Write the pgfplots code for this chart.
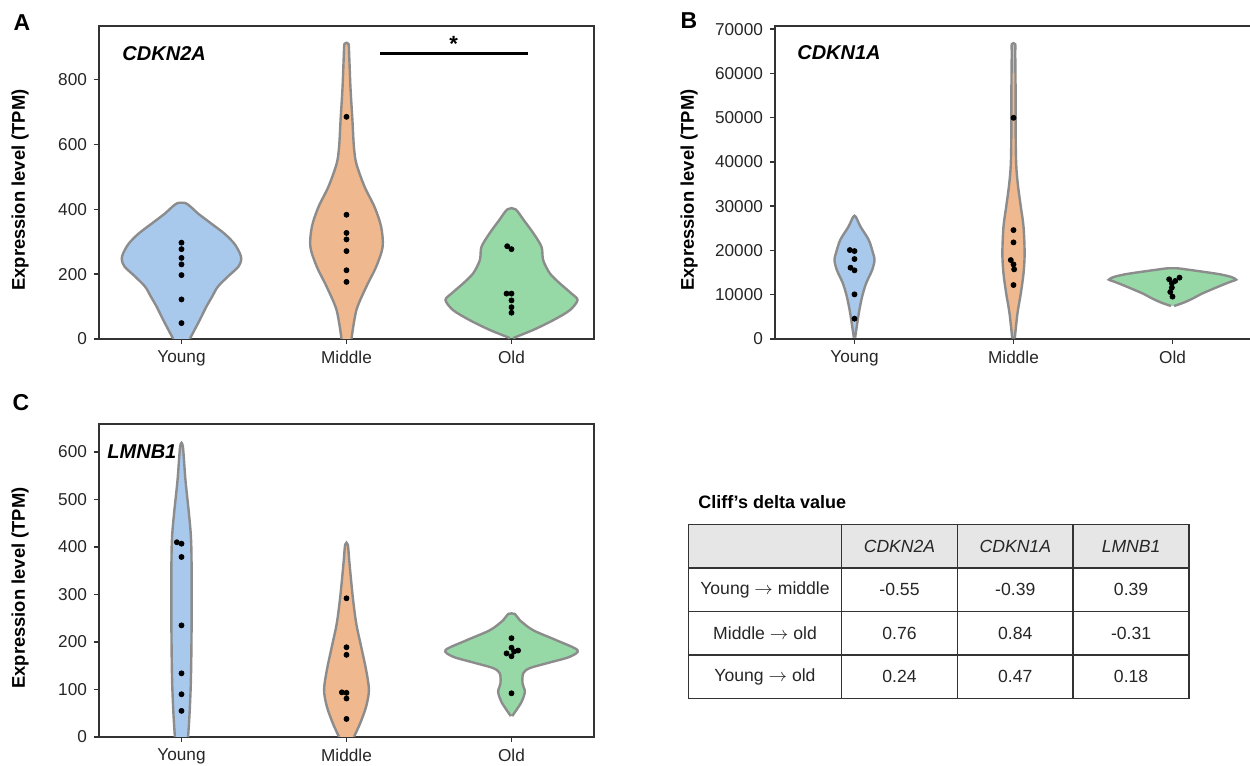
\documentclass[border=0pt]{standalone}
\usepackage{pgfplots}
\pgfplotsset{compat=1.18}
\usepackage{fontspec}
\setmainfont{Liberation Sans}
\definecolor{vblue}{HTML}{A8C8EC}
\definecolor{vorange}{HTML}{F0B88E}
\definecolor{vgreen}{HTML}{96D9A6}
\definecolor{vgray}{HTML}{8C8C8C}
\definecolor{axisc}{HTML}{333333}
\definecolor{tickc}{HTML}{262626}
\definecolor{hdrgray}{HTML}{E6E6E6}
\pgfplotsset{
  vio/.style={scale only axis, height=156.5pt, anchor=south west,
    xmin=0.5, xmax=3.5, ymin=0,
    xtick={1,2,3}, xticklabels={Young,Middle,Old},
    xtick pos=bottom, ytick pos=left, tick align=outside,
    major tick length=2.5pt,
    axis line style={draw=axisc, line width=0.75pt},
    tick style={draw=axisc, line width=0.75pt},
    tick label style={font=\fontsize{8.6}{10}\selectfont, text=tickc},
    /pgf/number format/assume math mode=true,
    scaled y ticks=false,
    yticklabel style={/pgf/number format/.cd, fixed, set thousands separator={}},
  },
  vshape/.style={draw=vgray, line width=1.2pt, smooth, tension=0.5},
  dots/.style={only marks, mark=*, mark size=1.25pt, black},
}
\begin{document}
\begin{tikzpicture}
\useasboundingbox (0,0) rectangle (625pt,383pt);
\clip (0,0) rectangle (625pt,383pt);

% ---------------- Panel A ----------------
\begin{axis}[vio, at={(49.5pt,213.5pt)}, width=247.5pt, ymax=965, ytick={0,200,400,600,800}]
\addplot[vshape, fill=vblue] coordinates {
(1.05,0) (1.11,58) (1.15,99) (1.185,130) (1.22,161) (1.28,192) (1.345,223) (1.362,245) (1.354,264) (1.32,294) (1.26,325) (1.18,356) (1.10,387) (1.057,407) (1.024,419)
(0.976,419) (0.943,407) (0.90,387) (0.82,356) (0.74,325) (0.68,294) (0.646,264) (0.638,245) (0.655,223) (0.72,192) (0.78,161) (0.815,130) (0.85,99) (0.89,58) (0.95,0)};
\addplot[vshape, fill=vorange] coordinates {
(2.03,0) (2.06,89) (2.12,161) (2.18,223) (2.219,284) (2.21,346) (2.17,407) (2.11,469) (2.06,540) (2.045,592) (2.036,674) (2.024,776) (2.016,879) (2.012,910)
(1.988,910) (1.984,879) (1.976,776) (1.964,674) (1.955,592) (1.94,540) (1.89,469) (1.83,407) (1.79,346) (1.781,284) (1.82,223) (1.88,161) (1.94,89) (1.97,0)};
\addplot[vshape, fill=vgreen] coordinates {
(3.01,3) (3.132,28) (3.253,58) (3.354,89) (3.40,120) (3.364,140) (3.294,171) (3.233,202) (3.192,243) (3.182,284) (3.134,325) (3.075,366) (3.024,400)
(2.976,400) (2.925,366) (2.866,325) (2.818,284) (2.808,243) (2.767,202) (2.706,171) (2.636,140) (2.60,120) (2.646,89) (2.747,58) (2.868,28) (2.99,3)};
\addplot[dots] coordinates {(1,297) (1,277) (1,250) (1,230) (1,197) (1,122) (1,49)};
\addplot[dots] coordinates {(2,685) (2,383) (2,327) (2,307) (2,271) (2,212) (2,176)};
\addplot[dots] coordinates {(2.974,286) (3,277) (2.97,140) (3,140) (3,119) (3,98) (3,81)};
\addplot[black, line width=1.5pt] coordinates {(2.206,880) (3.097,880)};
\node[anchor=north, inner sep=0pt, font=\bfseries\fontsize{11}{12}\selectfont] at (axis cs:2.65,934) {*};
\node[anchor=west, inner sep=0pt, font=\bfseries\itshape\fontsize{10}{12}\selectfont] at (axis cs:0.64,880) {CDKN2A};
\end{axis}

% ---------------- Panel B ----------------
\begin{axis}[vio, at={(387.5pt,213.5pt)}, width=238.5pt, ymax=70700, ytick={0,10000,20000,30000,40000,50000,60000,70000}]
\addplot[vshape, fill=vblue] coordinates {
(1.004,300) (1.027,5790) (1.048,9555) (1.073,12565) (1.111,15570) (1.126,17830) (1.117,19340) (1.09,22350) (1.038,25360) (1.008,27600)
(0.992,27600) (0.962,25360) (0.91,22350) (0.883,19340) (0.874,17830) (0.889,15570) (0.927,12565) (0.952,9555) (0.973,5790) (0.996,300)};
\addplot[vshape, fill=vorange] coordinates {
(2.008,150) (2.025,5790) (2.046,10310) (2.063,14820) (2.07,19340) (2.063,25360) (2.046,29870) (2.029,34380) (2.019,38150) (2.015,41910) (2.013,49430) (2.013,56960) (2.011,64480) (2.011,66600)
(1.989,66600) (1.989,64480) (1.987,56960) (1.987,49430) (1.985,41910) (1.981,38150) (1.971,34380) (1.954,29870) (1.937,25360) (1.93,19340) (1.937,14820) (1.954,10310) (1.975,5790) (1.992,150)};
\addplot[vshape, fill=vgreen] coordinates {
(3.01,7460) (3.07,8210) (3.13,9190) (3.19,10320) (3.30,12000) (3.37,13000) (3.40,13400) (3.37,14000) (3.30,14600) (3.21,15100) (3.13,15500) (3.07,15800) (3.03,15970)
(2.97,15970) (2.93,15800) (2.87,15500) (2.79,15100) (2.70,14600) (2.63,14000) (2.60,13400) (2.63,13000) (2.70,12000) (2.81,10320) (2.87,9190) (2.93,8210) (2.99,7460)};
\addplot[dots] coordinates {(0.971,20090) (1,19860) (1,18060) (0.975,16100) (1,15500) (1,10080) (1,4590)};
\addplot[dots] coordinates {(2,49960) (2,24600) (2,21820) (1.983,17830) (2,16850) (2.004,15730) (2,12190)};
\addplot[dots] coordinates {(2.979,13490) (3.044,13860) (3.017,13110) (2.996,12580) (2.996,11600) (2.986,10620) (3,9570)};
\node[anchor=west, inner sep=0pt, font=\bfseries\itshape\fontsize{10}{12}\selectfont] at (axis cs:0.638,64600) {CDKN1A};
\end{axis}

% ---------------- Panel C ----------------
\begin{axis}[vio, at={(49.5pt,14.5pt)}, width=247.5pt, ymax=659, ytick={0,100,200,300,400,500,600}]
\addplot[vshape, fill=vblue] coordinates {
(1.04,0) (1.049,50) (1.057,120) (1.061,225) (1.061,366) (1.057,422) (1.045,471) (1.024,541) (1.008,612)
(0.992,612) (0.976,541) (0.955,471) (0.943,422) (0.939,366) (0.939,225) (0.943,120) (0.951,50) (0.96,0)};
\addplot[vshape, fill=vorange] coordinates {
(2.045,0) (2.083,29) (2.119,64) (2.136,99) (2.119,141) (2.089,190) (2.059,239) (2.038,295) (2.018,366) (2.008,405)
(1.992,405) (1.982,366) (1.962,295) (1.941,239) (1.911,190) (1.881,141) (1.864,99) (1.881,64) (1.917,29) (1.955,0)};
\addplot[vshape, fill=vgreen] coordinates {
(3.004,44) (3.03,57) (3.061,74) (3.081,95) (3.067,113) (3.071,134) (3.111,145) (3.233,157) (3.354,169) (3.40,183) (3.27,204) (3.13,225) (3.05,246) (3.02,259)
(2.98,259) (2.95,246) (2.87,225) (2.73,204) (2.60,183) (2.646,169) (2.767,157) (2.889,145) (2.929,134) (2.933,113) (2.919,95) (2.939,74) (2.97,57) (2.996,44)};
\addplot[dots] coordinates {(0.972,410) (1,407) (1,379) (1,235) (1,134) (1,90) (1,55)};
\addplot[dots] coordinates {(2,292) (2,189) (2,173) (1.972,94) (2,93) (2,81) (2,38)};
\addplot[dots] coordinates {(3,208) (3,188) (2.97,176) (3.04,182) (3.016,180) (3,170) (3,92)};
\node[anchor=west, inner sep=0pt, font=\bfseries\itshape\fontsize{10}{12}\selectfont] at (axis cs:0.549,600) {LMNB1};
\end{axis}

% ---------------- labels ----------------
\node[rotate=90, font=\bfseries\fontsize{9.2}{11}\selectfont] at (10pt,288pt) {Expression level (TPM)};
\node[rotate=90, font=\bfseries\fontsize{9.2}{11}\selectfont] at (344.5pt,288pt) {Expression level (TPM)};
\node[rotate=90, font=\bfseries\fontsize{9.2}{11}\selectfont] at (10pt,89pt) {Expression level (TPM)};
\node[font=\bfseries\fontsize{11.5}{13}\selectfont] at (11pt,371.5pt) {A};
\node[font=\bfseries\fontsize{11.5}{13}\selectfont] at (344.5pt,372.5pt) {B};
\node[font=\bfseries\fontsize{11.5}{13}\selectfont] at (10.5pt,181.5pt) {C};

% ---------------- table ----------------
\node[anchor=base west, inner sep=0pt, font=\bfseries\fontsize{9}{11}\selectfont] at (349pt,128.5pt) {Cliff’s delta value};
\fill[hdrgray] (344.2pt,99pt) rectangle (594.5pt,120.75pt);
\begin{scope}[draw=axisc, line width=0.75pt]
\draw (344.2pt,33.75pt) rectangle (594.5pt,120.75pt);
\draw (344.2pt,99pt) -- (594.5pt,99pt);
\draw (344.2pt,77.25pt) -- (594.5pt,77.25pt);
\draw (344.2pt,55.5pt) -- (594.5pt,55.5pt);
\draw (420.8pt,33.75pt) -- (420.8pt,120.75pt);
\draw (478.7pt,33.75pt) -- (478.7pt,120.75pt);
\draw (536.6pt,33.75pt) -- (536.6pt,120.75pt);
\end{scope}
\begin{scope}[every node/.style={font=\fontsize{8.8}{10}\selectfont, text=tickc}]
\node at (449.75pt,109.9pt) {\itshape CDKN2A};
\node at (507.65pt,109.9pt) {\itshape CDKN1A};
\node at (565.55pt,109.9pt) {\itshape LMNB1};
\node at (382.5pt,88.1pt) {Young $\rightarrow$ middle};
\node at (382.5pt,66.4pt) {Middle $\rightarrow$ old};
\node at (382.5pt,44.6pt) {Young $\rightarrow$ old};
\node at (449.75pt,88.1pt) {-0.55};
\node at (507.65pt,88.1pt) {-0.39};
\node at (565.55pt,88.1pt) {0.39};
\node at (449.75pt,66.4pt) {0.76};
\node at (507.65pt,66.4pt) {0.84};
\node at (565.55pt,66.4pt) {-0.31};
\node at (449.75pt,44.6pt) {0.24};
\node at (507.65pt,44.6pt) {0.47};
\node at (565.55pt,44.6pt) {0.18};
\end{scope}
\end{tikzpicture}
\end{document}
